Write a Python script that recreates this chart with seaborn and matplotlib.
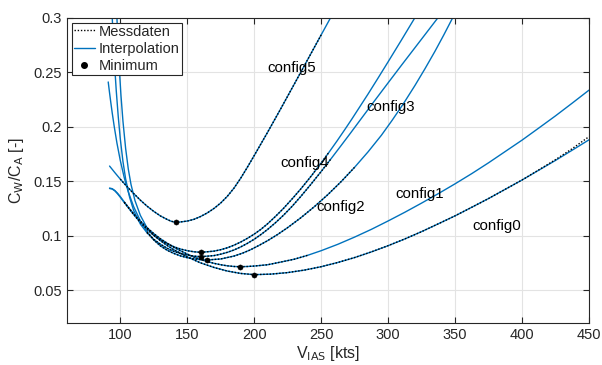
import numpy as np
import pandas as pd
import matplotlib
matplotlib.use("Agg")
import matplotlib.pyplot as plt
from matplotlib.lines import Line2D
import seaborn as sns

# ---------------- data ----------------
configs = ["config0", "config1", "config2", "config3", "config4", "config5"]

# Interpolation curves (V_IAS in kts, C_W/C_A)
interp_x0 = [92, 94, 96, 98, 100, 103, 106, 110, 115, 120, 125, 130, 135, 140, 150, 160, 170, 180, 190, 200,
             212.5, 225, 237.5, 250, 262.5, 275, 287.5, 300, 312.5, 325, 337.5, 350, 362.5, 375, 387.5,
             400, 412.5, 425, 437.5, 450]
interp_y0 = [0.1432, 0.1427, 0.1410, 0.1383, 0.1352, 0.1303, 0.1256, 0.1193, 0.1120, 0.1057, 0.1002, 0.0953,
             0.0909, 0.0870, 0.0804, 0.0749, 0.0707, 0.0674, 0.0652, 0.0641,
             0.0646, 0.0660, 0.0683, 0.0714, 0.0753, 0.0798, 0.0850, 0.0907, 0.0969, 0.1036, 0.1108, 0.1181,
             0.1260, 0.1340, 0.1425, 0.1510, 0.1600, 0.1690, 0.1784, 0.1879]

interp_x1 = [92, 94, 96, 98, 100, 103, 106, 110, 115, 120, 125, 130, 135, 140, 145, 150, 155, 160, 165, 170,
             175, 180, 185, 189.4, 195, 200, 210, 220, 230, 240, 250, 262.5, 275, 287.5, 300, 312.5, 325,
             337.5, 350, 362.5, 375, 387.5, 400, 412.5, 425, 437.5, 450]
interp_y1 = [0.1436, 0.1430, 0.1413, 0.1388, 0.1358, 0.1308, 0.1260, 0.1200, 0.1133, 0.1072, 0.1018, 0.0970,
             0.0930, 0.0893, 0.0860, 0.0830, 0.0803, 0.0780, 0.0761, 0.0745, 0.0732, 0.0722, 0.0716, 0.0714,
             0.0716, 0.0720, 0.0732, 0.0757, 0.0783, 0.0819, 0.0861, 0.0920, 0.0986, 0.1057, 0.1134, 0.1214,
             0.1298, 0.1385, 0.1475, 0.1569, 0.1668, 0.1772, 0.1876, 0.1987, 0.2099, 0.2216, 0.2335]

interp_x2 = [91, 92, 93, 94, 95.5, 97.5, 100, 103, 106, 110, 115, 120, 125, 130, 135, 140, 145, 150, 155, 160,
             165, 175, 185, 191, 197, 203.5, 210, 217.5, 225, 235, 245, 255, 265, 275, 285, 295, 303, 311.5,
             320, 327.5, 335, 341.5, 348.5]
interp_y2 = [0.241, 0.231, 0.2215, 0.2125, 0.200, 0.185, 0.169, 0.153, 0.140, 0.1265, 0.1135, 0.1035, 0.0960,
             0.0905, 0.0865, 0.0836, 0.0813, 0.0797, 0.0786, 0.0779, 0.0776, 0.0785, 0.0812, 0.0837, 0.0868,
             0.0909, 0.0953, 0.1010, 0.1073, 0.1165, 0.1266, 0.1376, 0.1496, 0.1627, 0.1768, 0.1921, 0.2058,
             0.2212, 0.2377, 0.2531, 0.2692, 0.2840, 0.3006]

interp_x3 = [94, 95, 96, 97, 98.5, 100, 102, 104, 107, 110, 115, 120, 125, 130, 135, 140, 145, 150, 155, 160.3,
             170, 175, 180, 185, 190, 195, 200, 205, 210, 216, 222, 228.5, 235, 242.5, 250, 257.5, 265, 272,
             279, 289.5, 300, 310, 320, 329, 338.3]
interp_y3 = [0.3, 0.274, 0.252, 0.233, 0.209, 0.189, 0.168, 0.152, 0.135, 0.123, 0.1105, 0.1025, 0.0965, 0.0920,
             0.0883, 0.0855, 0.0835, 0.0821, 0.0811, 0.0806, 0.0816, 0.0829, 0.0846, 0.0868, 0.0896, 0.0929,
             0.0966, 0.1009, 0.1056, 0.1119, 0.1188, 0.1271, 0.1362, 0.1473, 0.1588, 0.1707, 0.1828, 0.1942,
             0.2058, 0.2231, 0.2402, 0.2564, 0.2724, 0.2868, 0.3017]

interp_x4 = [97.5, 98.5, 99.5, 100.5, 102, 104, 106, 108, 111, 115, 120, 125, 130, 135, 140, 145, 150, 155,
             160.3, 170, 175, 180, 185, 190, 195, 200, 205, 210, 216, 222, 228.5, 235, 242.5, 250, 256, 262,
             267.5, 273, 279, 285, 292.5, 300, 310, 315, 320.5]
interp_y4 = [0.3, 0.272, 0.249, 0.229, 0.205, 0.180, 0.161, 0.147, 0.132, 0.1185, 0.107, 0.1005, 0.0960, 0.0925,
             0.0897, 0.0876, 0.0861, 0.0851, 0.0846, 0.0857, 0.0870, 0.0888, 0.0912, 0.0941, 0.0975, 0.1013,
             0.1057, 0.1108, 0.1177, 0.1251, 0.1339, 0.1431, 0.1545, 0.1666, 0.1767, 0.1871, 0.1970, 0.2071,
             0.2185, 0.2299, 0.2446, 0.2595, 0.2796, 0.2898, 0.3010]

interp_x5 = [92, 96, 100, 105, 110, 115, 120, 125, 130, 135, 138, 141.6, 145, 150, 155, 160, 165, 170, 175,
             180, 185, 190, 195, 200, 210, 220, 230, 240, 250, 257.5]
interp_y5 = [0.1638, 0.1577, 0.1518, 0.1450, 0.1386, 0.1325, 0.1270, 0.1222, 0.1180, 0.1148, 0.1131, 0.1122,
             0.1125, 0.1133, 0.1149, 0.1175, 0.1208, 0.1249, 0.1299, 0.1361, 0.1437, 0.1528, 0.1629, 0.1734,
             0.1948, 0.2168, 0.2392, 0.2617, 0.2842, 0.3010]

# Messdaten (measured data): speed range covered by each configuration
mess_lo = [101, 101, 117, 117, 117, 100]
mess_hi = [450, 240, 280, 258, 258, 250]
# config0 measured points near the right end lie slightly above the interpolation
mess_tail_x0 = [412.5, 425, 437.5, 450]
mess_tail_y0 = [0.1603, 0.1697, 0.1798, 0.1908]

# Minimum points
min_x = [199.9, 189.4, 165.0, 160.3, 160.3, 141.6]
min_y = [0.0641, 0.0714, 0.0776, 0.0806, 0.0846, 0.1122]

# Text labels
label_x = [362.7, 305.2, 246.7, 284.0, 219.8, 209.6]
label_y = [0.1088, 0.138, 0.1265, 0.218, 0.1666, 0.2538]

xlabel_text = "V$_\\mathrm{IAS}$ [kts]"
ylabel_text = "C$_\\mathrm{W}$/C$_\\mathrm{A}$ [-]"
legend_labels = ["Messdaten", "Interpolation", "Minimum"]

# ---------------- style ----------------
sns.set_style("ticks")
plt.rcParams["font.family"] = ["Liberation Sans", "DejaVu Sans"]
plt.rcParams["mathtext.default"] = "regular"
plt.rcParams["font.size"] = 10.5

blue = "#0072BD"
axcol = "#262626"
dots = (0, (1, 1.3))

fig = plt.figure(figsize=(6.02, 3.65), dpi=100)
ax = fig.add_axes([0.1108, 0.1159, 0.8676, 0.8356])

interp_x = [interp_x0, interp_x1, interp_x2, interp_x3, interp_x4, interp_x5]
interp_y = [interp_y0, interp_y1, interp_y2, interp_y3, interp_y4, interp_y5]

for xs, ys in zip(interp_x, interp_y):
    sns.lineplot(x=xs, y=ys, sort=False, estimator=None, color=blue, lw=1.0, ax=ax)

for i, (xs, ys) in enumerate(zip(interp_x, interp_y)):
    mx = [x for x in xs if mess_lo[i] <= x <= mess_hi[i]]
    my = [y for x, y in zip(xs, ys) if mess_lo[i] <= x <= mess_hi[i]]
    if i == 0:
        keep = [k for k, x in enumerate(mx) if x < mess_tail_x0[0]]
        mx = [mx[k] for k in keep] + mess_tail_x0
        my = [my[k] for k in keep] + mess_tail_y0
    sns.lineplot(x=mx, y=my, sort=False, estimator=None, color="black", lw=1.0,
                 linestyle=dots, ax=ax)

sns.scatterplot(x=min_x, y=min_y, color="black", s=14, edgecolor="black", linewidth=0.3,
                zorder=5, ax=ax)

for name, lx, ly in zip(configs, label_x, label_y):
    ax.text(lx, ly, name, ha="left", va="center", fontsize=10.8, color="black")

ax.set_xlim(60, 450)
ax.set_ylim(0.02, 0.3)
ax.set_xticks([100, 150, 200, 250, 300, 350, 400, 450])
ax.set_yticks([0.05, 0.1, 0.15, 0.2, 0.25, 0.3])
ax.set_yticklabels(["0.05", "0.1", "0.15", "0.2", "0.25", "0.3"])
ax.grid(True, color="#e3e3e3", lw=0.8)
ax.set_axisbelow(True)
for s in ax.spines.values():
    s.set_color(axcol)
    s.set_linewidth(0.8)
    s.set_visible(True)
ax.tick_params(direction="in", length=4, width=0.8, color=axcol, labelcolor=axcol,
               top=True, right=True, labelsize=10.5, pad=3.5)
ax.set_xlabel(xlabel_text, fontsize=11.5, color=axcol, labelpad=2)
ax.set_ylabel(ylabel_text, fontsize=11.5, color=axcol, labelpad=5)

handles = [
    Line2D([], [], color="black", lw=1.0, linestyle=dots),
    Line2D([], [], color=blue, lw=1.0),
    Line2D([], [], color="black", marker="o", markersize=4, linestyle="none"),
]
leg = ax.legend(handles, legend_labels, loc="upper left", fontsize=10.5, frameon=True,
                fancybox=False, edgecolor=axcol, framealpha=1, borderpad=0.12,
                labelspacing=0.22, handlelength=1.5, handletextpad=0.25,
                borderaxespad=0.35)
leg.get_frame().set_linewidth(0.8)

fig.savefig("out.png", dpi=100)
